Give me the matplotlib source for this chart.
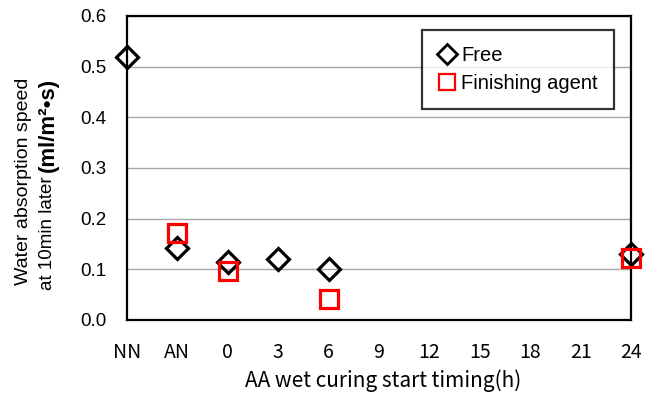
import matplotlib
matplotlib.use("Agg")
import matplotlib.pyplot as plt
from matplotlib.lines import Line2D

# categories on the x axis (curing start timing)
categories = ["NN", "AN", "0", "3", "6", "9", "12", "15", "18", "21", "24"]

# Free (diamonds)
free_cats = ["NN", "AN", "0", "3", "6", "24"]
free_vals = [0.52, 0.143, 0.114, 0.12, 0.10, 0.13]

# Finishing agent (squares)
agent_cats = ["AN", "0", "6", "24"]
agent_vals = [0.172, 0.097, 0.041, 0.123]

yticks = [0.0, 0.1, 0.2, 0.3, 0.4, 0.5, 0.6]

W, H = 654, 394
fig = plt.figure(figsize=(W / 100, H / 100), dpi=100)
ax = fig.add_axes([127 / W, 1 - 320 / H, (631 - 127) / W, (320 - 16) / H])

pos = {c: i for i, c in enumerate(categories)}
fx = [pos[c] for c in free_cats]
ax_ = [pos[c] for c in agent_cats]

ax.plot(fx, free_vals, linestyle="none", marker="D", markersize=11,
        markerfacecolor="none", markeredgecolor="black", markeredgewidth=2.3,
        clip_on=False, zorder=4)
ax.plot(ax_, agent_vals, linestyle="none", marker="s", markersize=13,
        markerfacecolor="none", markeredgecolor="#ff0000", markeredgewidth=2.3,
        clip_on=False, zorder=5)

ax.set_xlim(0, len(categories) - 1)
ax.set_ylim(0, 0.6)
ax.set_xticks(range(len(categories)))
ax.set_xticklabels(categories, fontfamily="Noto Sans CJK JP", fontsize=14)
ax.set_yticks(yticks)
ax.set_yticklabels([f"{v:.1f}" for v in yticks], fontfamily="Liberation Sans", fontsize=13.5)
ax.tick_params(axis="x", length=0, pad=16)
ax.tick_params(axis="y", length=0, pad=15)

ax.grid(axis="y", color="#a6a6a6", linewidth=1)
ax.set_axisbelow(True)
for s in ax.spines.values():
    s.set_color("black")
    s.set_linewidth(1.6)

# y label: two lines, second line partly bold
fig.text(24 / W, 1 - 181 / H, "Water absorption speed", rotation=90,
         ha="center", va="center", fontfamily="Liberation Sans", fontsize=14)
fig.text(48 / W, 1 - 290 / H, "at 10min later", rotation=90, rotation_mode="anchor",
         ha="left", va="center", fontfamily="Liberation Sans", fontsize=13.5)
fig.text(48 / W, 1 - 172 / H, "(ml/m²•s)", rotation=90, rotation_mode="anchor",
         ha="left", va="center", fontfamily="Liberation Sans", fontsize=16,
         fontweight="bold")

fig.text(383 / W, 1 - 381 / H, "AA wet curing start timing(h)",
         ha="center", va="center", fontfamily="Noto Sans CJK JP", fontsize=15)

handles = [
    Line2D([], [], linestyle="none", marker="D", markersize=10, markerfacecolor="none",
           markeredgecolor="black", markeredgewidth=2, label="Free"),
    Line2D([], [], linestyle="none", marker="s", markersize=12, markerfacecolor="none",
           markeredgecolor="#ff0000", markeredgewidth=1.6, label="Finishing agent"),
]
leg = ax.legend(handles=handles, loc="upper left",
                bbox_to_anchor=((422 - 127) / (631 - 127), (320 - 30) / (320 - 16)),
                prop={"family": "Liberation Sans", "size": 14.5}, frameon=True,
                fancybox=False, handlelength=0.9, handletextpad=0.25,
                borderpad=0.8, labelspacing=0.45, borderaxespad=0)
leg.get_frame().set_edgecolor("black")
leg.get_frame().set_linewidth(1.6)

fig.savefig("out.png", dpi=100)
